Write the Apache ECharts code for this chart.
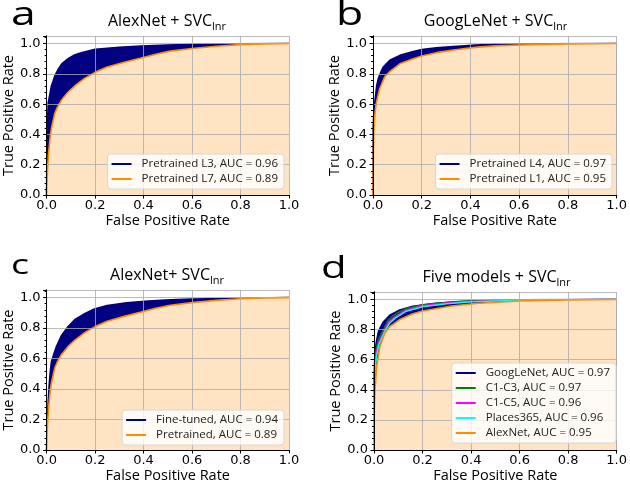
<!DOCTYPE html>
<html>
<head>
<meta charset="utf-8">
<script src="https://cdn.jsdelivr.net/npm/echarts@6/dist/echarts.min.js"></script>
<style>
  html, body { margin: 0; padding: 0; background: #fff; }
  #main { width: 630px; height: 484px; }
</style>
</head>
<body>
<div id="main"></div>
<script>
// ROC curves, [fpr, tpr]
var alexL3 = [[0,0],[0.001,0.2],[0.003,0.45],[0.007,0.61],[0.02,0.72],[0.035,0.79],[0.048,0.83],[0.065,0.87],[0.089,0.9],[0.115,0.925],[0.143,0.94],[0.2,0.962],[0.3,0.975],[0.39,0.983],[0.5,0.99],[0.6,0.995],[0.8,0.999],[1,1]];
var alexL7 = [[0,0],[0.002,0.1],[0.004,0.17],[0.008,0.27],[0.014,0.37],[0.02,0.44],[0.034,0.54],[0.045,0.58],[0.061,0.625],[0.089,0.68],[0.116,0.72],[0.157,0.77],[0.2,0.81],[0.25,0.845],[0.32,0.877],[0.39,0.905],[0.45,0.93],[0.51,0.95],[0.6,0.967],[0.7,0.982],[0.8,0.993],[0.9,0.998],[1,1]];
var googL4 = [[0,0],[0.0005,0.3],[0.001,0.46],[0.004,0.56],[0.008,0.62],[0.015,0.72],[0.022,0.77],[0.032,0.81],[0.042,0.845],[0.069,0.89],[0.11,0.922],[0.165,0.948],[0.2,0.96],[0.26,0.972],[0.33,0.981],[0.42,0.99],[0.5,0.995],[0.7,0.999],[1,1]];
var googL1 = [[0,0],[0.0005,0.12],[0.001,0.24],[0.003,0.38],[0.005,0.47],[0.009,0.55],[0.014,0.61],[0.027,0.7],[0.048,0.78],[0.069,0.815],[0.11,0.866],[0.165,0.9],[0.2,0.918],[0.26,0.94],[0.33,0.958],[0.42,0.975],[0.5,0.985],[0.6,0.991],[0.8,0.997],[1,1]];
var fineTuned = [[0,0],[0.002,0.12],[0.004,0.21],[0.007,0.32],[0.01,0.41],[0.015,0.51],[0.02,0.58],[0.03,0.63],[0.041,0.68],[0.061,0.75],[0.089,0.81],[0.116,0.855],[0.157,0.895],[0.197,0.925],[0.25,0.948],[0.33,0.966],[0.42,0.977],[0.51,0.985],[0.6,0.99],[0.8,0.996],[1,1]];
var dGoogLeNet = [[0,0],[0.001,0.5],[0.004,0.65],[0.01,0.72],[0.018,0.785],[0.028,0.82],[0.038,0.85],[0.065,0.895],[0.106,0.93],[0.16,0.955],[0.255,0.975],[0.35,0.986],[0.45,0.993],[0.6,0.998],[1,1]];
var dC1C3 = [[0,0],[0.001,0.45],[0.004,0.6],[0.01,0.68],[0.02,0.74],[0.03,0.77],[0.045,0.82],[0.06,0.866],[0.09,0.905],[0.13,0.938],[0.2,0.965],[0.3,0.98],[0.4,0.99],[0.6,0.997],[1,1]];
var dC1C5 = [[0,0],[0.001,0.42],[0.004,0.56],[0.01,0.65],[0.02,0.715],[0.03,0.75],[0.045,0.8],[0.06,0.85],[0.09,0.89],[0.13,0.928],[0.2,0.958],[0.3,0.976],[0.4,0.987],[0.6,0.996],[1,1]];
var dPlaces365 = [[0,0],[0.001,0.4],[0.004,0.53],[0.01,0.62],[0.02,0.7],[0.03,0.735],[0.045,0.79],[0.065,0.845],[0.09,0.88],[0.13,0.92],[0.2,0.952],[0.3,0.972],[0.4,0.985],[0.6,0.995],[1,1]];
var dAlexNet = [[0,0],[0.001,0.25],[0.004,0.4],[0.011,0.555],[0.024,0.686],[0.044,0.774],[0.065,0.82],[0.106,0.867],[0.16,0.906],[0.2,0.924],[0.32,0.957],[0.43,0.975],[0.6,0.99],[0.8,0.997],[1,1]];

var tickFont = 'DejaVu Sans';
var textFont = 'Open Sans';
var fillColor = '#ffe4c4';

// one entry per panel: layout + curves
var panels = [
    {
        letter: 'a', letterSize: 33, letterX: 11, letterY: 16,
        title: 'AlexNet + SVC',
        grid: { left: 45, top: 36, width: 244, height: 159 },
        legendPos: { right: 346, bottom: 295 },
        curves: [
            { name: 'Pretrained L3, AUC = 0.96', data: alexL3, color: '#000080', area: '#000080' },
            { name: 'Pretrained L7, AUC = 0.89', data: alexL7, color: '#ff8c00', area: fillColor }
        ]
    },
    {
        letter: 'b', letterSize: 33, letterX: 336, letterY: 16,
        title: 'GoogLeNet + SVC',
        grid: { left: 373, top: 36, width: 245, height: 159 },
        legendPos: { right: 18, bottom: 295 },
        curves: [
            { name: 'Pretrained L4, AUC = 0.97', data: googL4, color: '#000080', area: '#000080' },
            { name: 'Pretrained L1, AUC = 0.95', data: googL1, color: '#ff8c00', area: fillColor }
        ]
    },
    {
        letter: 'c', letterSize: 28, letterX: 11, letterY: 266,
        title: 'AlexNet+ SVC',
        grid: { left: 45, top: 290, width: 244, height: 160 },
        legendPos: { right: 346, bottom: 39 },
        curves: [
            { name: 'Fine-tuned, AUC = 0.94', data: fineTuned, color: '#000080', area: '#000080' },
            { name: 'Pretrained, AUC = 0.89', data: alexL7, color: '#ff8c00', area: fillColor }
        ]
    },
    {
        letter: 'd', letterSize: 31, letterX: 321, letterY: 269,
        title: 'Five models + SVC',
        grid: { left: 374, top: 292, width: 245, height: 159 },
        legendPos: { right: 14, bottom: 41 },
        curves: [
            { name: 'GoogLeNet, AUC = 0.97', data: dGoogLeNet, color: '#000080', area: '#000080' },
            { name: 'C1-C3, AUC = 0.97', data: dC1C3, color: '#008000' },
            { name: 'C1-C5, AUC = 0.96', data: dC1C5, color: '#ff00ff' },
            { name: 'Places365, AUC = 0.96', data: dPlaces365, color: '#00ffff' },
            { name: 'AlexNet, AUC = 0.95', data: dAlexNet, color: '#ff8c00', area: fillColor }
        ]
    }
];

var gridLine = { lineStyle: { color: 'rgba(170,170,170,0.8)', width: 1 } };
var spine = { show: true, lineStyle: { color: '#000', width: 1 } };

var grids = [], xAxes = [], yAxes = [], series = [], legends = [], graphics = [];

panels.forEach(function (p, i) {
    grids.push(Object.assign({ containLabel: false }, p.grid));

    xAxes.push({
        gridIndex: i, type: 'value', min: 0, max: 1, interval: 0.2, position: 'bottom', z: 10,
        axisLine: spine,
        axisTick: { show: true, length: 3.5, lineStyle: { color: '#000' } },
        axisLabel: { color: '#000', fontFamily: tickFont, fontSize: 13, margin: 4,
            formatter: function (v) { return v.toFixed(1); } },
        splitLine: Object.assign({ show: true }, gridLine),
        name: 'False Positive Rate', nameLocation: 'middle', nameGap: 18,
        nameTextStyle: { color: '#000', fontFamily: textFont, fontSize: 14.5 }
    });
    xAxes.push({
        gridIndex: i, type: 'value', min: 0, max: 1, position: 'top', z: 10,
        axisLine: spine, axisTick: { show: false }, axisLabel: { show: false }, splitLine: { show: false }
    });

    yAxes.push({
        gridIndex: i, type: 'value', min: 0, max: 1.05, interval: 0.2, position: 'left', z: 10,
        axisLine: spine,
        axisTick: { show: true, length: 3.5, lineStyle: { color: '#000' } },
        minorTick: { show: true, splitNumber: 5, length: 2, lineStyle: { color: '#000' } },
        axisLabel: { color: '#000', fontFamily: tickFont, fontSize: 13, margin: 6, showMaxLabel: false,
            formatter: function (v) { return v.toFixed(1); } },
        splitLine: Object.assign({ show: true }, gridLine),
        name: 'True Positive Rate', nameLocation: 'middle', nameGap: 29,
        nameTextStyle: { color: '#000', fontFamily: textFont, fontSize: 14.5 }
    });
    yAxes.push({
        gridIndex: i, type: 'value', min: 0, max: 1.05, position: 'right', z: 10,
        axisLine: spine, axisTick: { show: false }, axisLabel: { show: false }, splitLine: { show: false }
    });

    p.curves.forEach(function (c, k) {
        var s = {
            name: c.name, type: 'line', data: c.data,
            xAxisIndex: 2 * i, yAxisIndex: 2 * i,
            showSymbol: false, smooth: false, color: c.color,
            lineStyle: { color: c.color, width: 1.6 },
            z: 2 + k
        };
        if (c.area) s.areaStyle = { color: c.area, opacity: 1 };
        series.push(s);
    });

    legends.push(Object.assign({
        orient: 'vertical', z: 20,
        data: p.curves.map(function (c) { return c.name; }),
        icon: 'rect', itemWidth: 20, itemHeight: 2, itemGap: 3,
        padding: [4, 6, 4, 4],
        backgroundColor: 'rgba(255,255,255,0.8)',
        borderColor: '#d6d6d6', borderWidth: 1, borderRadius: 3,
        selectedMode: false,
        textStyle: { color: '#222', fontFamily: textFont, fontSize: 11.5, padding: [0, 0, 0, 5] }
    }, p.legendPos));

    var cx = p.grid.left + p.grid.width / 2;
    graphics.push({
        type: 'text', x: cx, y: p.grid.top - 15,
        style: {
            text: '{m|' + p.title + '}{s|lnr}',
            align: 'center', verticalAlign: 'middle',
            rich: {
                m: { fontFamily: textFont, fontSize: 16, lineHeight: 22, verticalAlign: 'middle', fill: '#000' },
                s: { fontFamily: textFont, fontSize: 11, lineHeight: 12, verticalAlign: 'bottom', fill: '#000' }
            }
        }
    });
    // panel letters are wider than the font in the figure
    graphics.push({
        type: 'text', x: p.letterX, y: p.letterY, scaleX: 1.35,
        style: {
            text: p.letter, fill: '#000', font: p.letterSize + 'px "Open Sans"',
            align: 'left', verticalAlign: 'middle'
        }
    });
});

var chart = echarts.init(document.getElementById('main'), null, { renderer: 'canvas' });
chart.setOption({
    animation: false,
    backgroundColor: '#fff',
    grid: grids,
    xAxis: xAxes,
    yAxis: yAxes,
    legend: legends,
    graphic: graphics,
    series: series
});
</script>
</body>
</html>
